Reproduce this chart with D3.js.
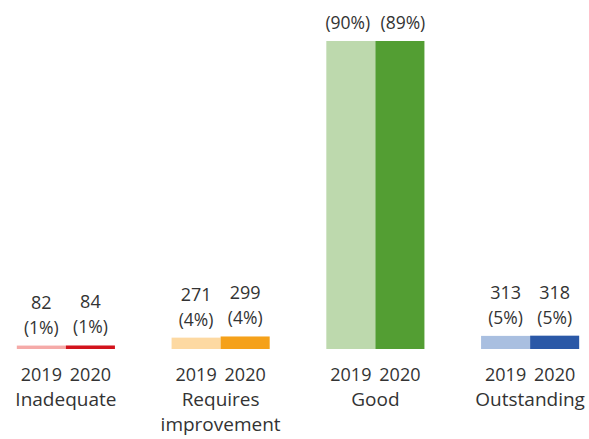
<!DOCTYPE html>
<html>
<head>
<meta charset="utf-8">
<script src="https://cdn.jsdelivr.net/npm/d3@7"></script>
<style>
  html, body { margin: 0; padding: 0; background: #fff; }
  svg { display: block; }
  text { font-family: "Open Sans", "Noto Sans", sans-serif; fill: #333; }
</style>
</head>
<body>
<svg id="chart" width="589" height="439"></svg>
<script>
const categories = ["Inadequate", "Requires improvement", "Good", "Outstanding"];
const categoryLines = [["Inadequate"], ["Requires", "improvement"], ["Good"], ["Outstanding"]];
const years = ["2019", "2020"];
const values2019 = [82, 271, 7350, 313];
const values2020 = [84, 299, 7350, 318];
const counts2019 = ["82", "271", "", "313"];
const counts2020 = ["84", "299", "", "318"];
const pct2019 = ["1%", "4%", "90%", "5%"];
const pct2020 = ["1%", "4%", "89%", "5%"];
const colors2019 = ["#f5aaa8", "#fdd9a2", "#bdd9ad", "#a9bfe0"];
const colors2020 = ["#d2131c", "#f5a11a", "#539e33", "#2a58a7"];

const svg = d3.select("#chart");
const baseY = 349, topY = 41;

const x = d3.scaleBand().domain(categories).range([-11.5, 607.5]).paddingInner(0.366).paddingOuter(0.183);
const xs = d3.scaleBand().domain(years).range([0, x.bandwidth()]);
const y = d3.scaleLinear().domain([0, 7350]).range([baseY, topY]);

const rows = [];
categories.forEach((c, i) => {
  rows.push({cat: c, year: "2019", v: values2019[i], count: counts2019[i], pct: pct2019[i], color: colors2019[i]});
  rows.push({cat: c, year: "2020", v: values2020[i], count: counts2020[i], pct: pct2020[i], color: colors2020[i]});
});

const g = svg.append("g");

g.selectAll("rect.bar").data(rows).join("rect")
  .attr("class", "bar")
  .attr("x", d => x(d.cat) + xs(d.year))
  .attr("y", d => y(d.v))
  .attr("width", xs.bandwidth())
  .attr("height", d => baseY - y(d.v))
  .attr("fill", d => d.color);

const cx = d => x(d.cat) + xs(d.year) + xs.bandwidth() / 2;

g.selectAll("text.pct").data(rows).join("text")
  .attr("class", "pct")
  .attr("x", d => cx(d) + (d.cat === "Good" ? (d.year === "2019" ? -3 : 3) : 0))
  .attr("y", d => y(d.v) - 12)
  .attr("text-anchor", "middle")
  .style("font-size", "17.5px")
  .text(d => "(" + d.pct + ")");

g.selectAll("text.count").data(rows.filter(d => d.count !== "")).join("text")
  .attr("class", "count")
  .attr("x", cx)
  .attr("y", d => y(d.v) - 37)
  .attr("text-anchor", "middle")
  .style("font-size", "18px")
  .text(d => d.count);

g.selectAll("text.year").data(rows).join("text")
  .attr("class", "year")
  .attr("x", cx)
  .attr("y", 381)
  .attr("text-anchor", "middle")
  .style("font-size", "18px")
  .text(d => d.year);

const cat = g.selectAll("text.cat").data(categories).join("text")
  .attr("class", "cat")
  .attr("x", d => x(d) + x.bandwidth() / 2)
  .attr("y", 406)
  .attr("text-anchor", "middle")
  .style("font-size", "19px");
cat.each(function(d, i) {
  const t = d3.select(this);
  categoryLines[i].forEach((line, j) => {
    t.append("tspan")
      .attr("x", x(d) + x.bandwidth() / 2)
      .attr("dy", j === 0 ? 0 : 25)
      .text(line);
  });
});
</script>
</body>
</html>
